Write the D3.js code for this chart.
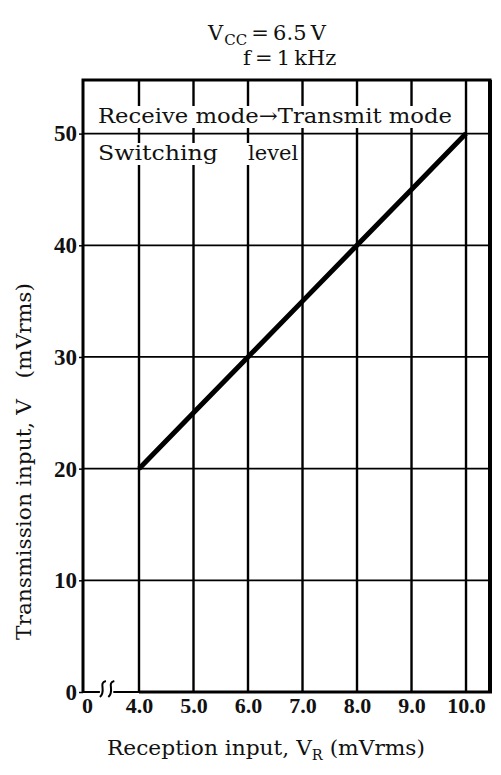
<!DOCTYPE html>
<html><head><meta charset="utf-8">
<script src="https://cdn.jsdelivr.net/npm/d3@7"></script>
<style>
html,body{margin:0;padding:0;background:#fff;}
svg{display:block;}
text{fill:#111;}
</style></head>
<body>
<svg id="chart" width="501" height="775"></svg>
<script>
// ---- data ----
const receptionInput = [4.0, 5.0, 6.0, 7.0, 8.0, 9.0, 10.0];      // V_R (mVrms)
const transmissionInput = [20, 25, 30, 35, 40, 45, 50];           // V (mVrms)
const xTickValues = [0, 4, 5, 6, 7, 8, 9, 10];
const xTickLabels = ["0", "4.0", "5.0", "6.0", "7.0", "8.0", "9.0", "10.0"];
const yTickValues = [0, 10, 20, 30, 40, 50];
const yTickLabels = ["0", "10", "20", "30", "40", "50"];
const xGrid = [4, 5, 6, 7, 8, 9, 10];
const yGrid = [10, 20, 30, 40, 50];
const breakMarks = [1.35, 1.95];

const svg = d3.select("#chart");
const serif = "'DejaVu Serif', 'Liberation Serif', serif";
const numFont = "'Liberation Serif', 'DejaVu Serif', serif";

// broken x axis: 0 .. (break) .. 4 .. 10.44
const x = d3.scaleLinear().domain([0, 4, 10.44]).range([83, 139, 490]);
const y = d3.scaleLinear().domain([0, 54.8]).range([692, 80]);
const L = x.range()[0], R = x.range()[2], T = y.range()[1], B = y.range()[0];

// grid
const g = svg.append("g");
g.selectAll(".vg").data(xGrid).join("line")
  .attr("x1", d => x(d)).attr("x2", d => x(d)).attr("y1", T).attr("y2", B)
  .attr("stroke", "#000").attr("stroke-width", 2.4);
g.selectAll(".hg").data(yGrid).join("line")
  .attr("x1", L).attr("x2", R).attr("y1", d => y(d)).attr("y2", d => y(d))
  .attr("stroke", "#000").attr("stroke-width", 1.8);

// label box texts with white knock-out
function knockText(tx, ty, str, len, size) {
  const t = svg.append("text").attr("x", tx).attr("y", ty)
    .attr("font-family", serif).attr("font-size", size).text(str);
  if (len) t.attr("textLength", len).attr("lengthAdjust", "spacingAndGlyphs");
  const bb = t.node().getBBox();
  svg.insert("rect", () => t.node())
    .attr("x", bb.x - 2).attr("y", bb.y + 2).attr("width", bb.width + 4).attr("height", bb.height - 2)
    .attr("fill", "#fff");
  return t;
}
knockText(98, 123, "Receive mode\u2192Transmit mode", 354, 21);
knockText(98, 160, "Switching", 120, 21);
knockText(248, 160, "level", null, 21);

// frame
svg.append("path")
  .attr("d", `M${L},${B}L${L},${T}L${R},${T}L${R},${B}`)
  .attr("fill", "none").attr("stroke", "#000").attr("stroke-width", 3);
svg.append("line").attr("x1", R).attr("x2", R).attr("y1", T).attr("y2", B)
  .attr("stroke", "#000").attr("stroke-width", 4);
// bottom line with break
const b0 = x(breakMarks[0]) - 2, b1 = x(breakMarks[1]) + 3;
svg.append("line").attr("x1", L - 1).attr("x2", b0).attr("y1", B).attr("y2", B)
  .attr("stroke", "#000").attr("stroke-width", 2);
svg.append("line").attr("x1", b1).attr("x2", x(4)).attr("y1", B).attr("y2", B)
  .attr("stroke", "#000").attr("stroke-width", 2);
svg.append("line").attr("x1", x(4)).attr("x2", R + 2).attr("y1", B).attr("y2", B)
  .attr("stroke", "#000").attr("stroke-width", 3);
svg.selectAll(".brk").data(breakMarks).join("path")
  .attr("d", d => { const cx = x(d); return `M${cx + 4},${B - 11} C${cx - 4},${B - 9} ${cx + 5},${B - 1} ${cx - 2},${B + 5}`; })
  .attr("fill", "none").attr("stroke", "#000").attr("stroke-width", 2);

// data line
const line = d3.line().x(d => x(d[0])).y(d => y(d[1]));
svg.append("path")
  .datum(receptionInput.map((v, i) => [v, transmissionInput[i]]))
  .attr("d", line).attr("fill", "none").attr("stroke", "#000")
  .attr("stroke-width", 5).attr("stroke-linecap", "butt");

// axes
const yAxis = d3.axisLeft(y).tickValues(yTickValues)
  .tickFormat((d, i) => yTickLabels[i]).tickSize(4).tickPadding(2);
const ya = svg.append("g").attr("transform", `translate(${L},0)`).call(yAxis);
ya.select(".domain").remove();
ya.selectAll(".tick line").attr("stroke", "#000").attr("stroke-width", 1.5);
ya.selectAll("text").attr("font-family", numFont).attr("font-weight", "bold")
  .attr("font-size", 23).attr("fill", "#111");

const xAxis = d3.axisBottom(x).tickValues(xTickValues)
  .tickFormat((d, i) => xTickLabels[i]).tickSize(0).tickPadding(5);
const xa = svg.append("g").attr("transform", `translate(0,${B})`).call(xAxis);
xa.select(".domain").remove();
xa.selectAll("text").attr("font-family", numFont).attr("font-weight", "bold")
  .attr("font-size", 22).attr("fill", "#111");
xa.selectAll(".tick").filter(d => d === 0).select("text").attr("dx", 4);

// axis titles
const xt = svg.append("text").attr("x", 107).attr("y", 755)
  .attr("font-family", serif).attr("font-size", 21)
  .attr("textLength", 318).attr("lengthAdjust", "spacingAndGlyphs");
xt.append("tspan").text("Reception input, V");
xt.append("tspan").attr("font-size", 14).attr("dy", 5).text("R");
xt.append("tspan").attr("dy", -5).text(" (mVrms)");

svg.append("text")
  .attr("transform", "translate(31,640) rotate(-90)")
  .attr("font-family", serif).attr("font-size", 21)
  .attr("textLength", 357).attr("lengthAdjust", "spacingAndGlyphs")
  .text("Transmission input, V\u00a0\u00a0\u00a0(mVrms)");

// conditions
const c1 = svg.append("text").attr("x", 208).attr("y", 40)
  .attr("font-family", serif).attr("font-size", 21);
c1.append("tspan").text("V");
c1.append("tspan").attr("font-size", 15).attr("dy", 5).attr("dx", 1).text("CC");
c1.append("tspan").attr("dy", -5).text("\u2009=\u20096.5\u2009V");
svg.append("text").attr("x", 243).attr("y", 65)
  .attr("font-family", serif).attr("font-size", 21)
  .text("f\u2009=\u20091\u2009kHz");
</script>
</body></html>
